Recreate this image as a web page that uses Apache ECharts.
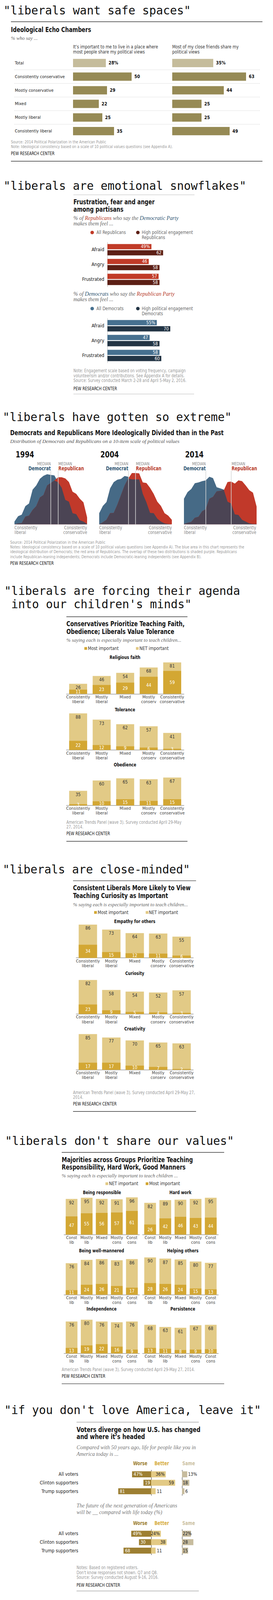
<!DOCTYPE html>
<html><head><meta charset="utf-8">
<script src="https://cdn.jsdelivr.net/npm/echarts@6/dist/echarts.min.js"></script>
<style>html,body{margin:0;padding:0;background:#fff;overflow:hidden}#c{width:699px;height:4418px}</style>
</head><body><div id="c"></div>
<script>
// ================= DATA =================
const echoRows = ['Total','Consistently conservative','Mostly conservative','Mixed','Mostly liberal','Consistently liberal'];
const echoLivePlace = [28,50,29,22,25,35];
const echoFriends = [35,63,44,25,25,49];

const emotions = ['Afraid','Angry','Frustrated'];
const repAll = [49,46,57];
const repHigh = [62,58,58];
const demAll = [55,47,58];
const demHigh = [70,58,60];

const scalePoints = [-10,-9,-8,-7,-6,-5,-4,-3,-2,-1,0,1,2,3,4,5,6,7,8,9,10];
const dem1994 = [23,68,81,151,173,288,323,378,403,416,410,406,350,303,203,188,93,85,35,23,3];
const rep1994 = [0,8,10,65,73,120,151,223,243,323,343,363,391,391,381,351,271,253,213,183,58];
const dem2004 = [93,153,185,298,350,370,377,401,395,373,373,373,253,183,95,93,48,23,8,3,0];
const rep2004 = [0,18,38,93,95,163,243,323,380,425,425,423,348,343,303,253,188,153,93,73,38];
const dem2014 = [213,268,293,341,348,358,365,395,383,308,298,288,188,173,83,78,38,23,8,3,3];
const rep2014 = [3,13,20,55,63,108,125,213,228,273,278,285,351,355,338,365,358,323,283,263,148];
const medians1994 = [0,2];
const medians2004 = [-2,0];
const medians2014 = [-4,3];

const ideoCats = ['Consistently\nliberal','Mostly\nliberal','Mixed','Mostly\nconserv','Consistently\nconservative'];
const faithNet = [26,46,54,68,81], faithMost = [11,23,29,44,59];
const tolNet = [88,73,62,57,41],  tolMost = [22,12,9,6,3];
const obeNet = [35,60,65,63,67],  obeMost = [3,10,15,11,15];
const empNet = [86,73,64,63,55],  empMost = [34,15,12,11,6];
const curNet = [82,58,54,52,57],  curMost = [23,9,5,4,3];
const creNet = [85,77,70,65,63],  creMost = [17,17,10,7,2];

const shortCats = ['Const\nlib','Mostly\nlib','Mixed','Mostly\ncons','Const\ncons'];
const respNet = [92,95,92,91,96], respMost = [47,55,56,57,61];
const hardNet = [82,89,90,92,95], hardMost = [26,42,46,43,44];
const mannNet = [76,84,86,83,86], mannMost = [11,24,26,21,17];
const helpNet = [90,87,85,80,77], helpMost = [28,26,24,15,13];
const indNet  = [76,80,76,74,76], indMost  = [13,19,22,16,9];
const perNet  = [68,63,61,67,68], perMost  = [13,11,8,9,10];

const voterGroups = ['All voters','Clinton supporters','Trump supporters'];
const todayWorse = [47,19,81], todayBetter = [36,59,11], todaySame = [13,18,6];
const futureWorse = [49,30,68], futureBetter = [24,38,11], futureSame = [22,28,15];

// ================= STYLE =================
const NARROW = "'Liberation Sans Narrow','DejaVu Sans Condensed','Arial Narrow','Liberation Sans',sans-serif";
const SERIF = "'Liberation Serif','DejaVu Serif',serif";
const MONO = "'DejaVu Sans Mono','Liberation Mono',monospace";
const OLIVE='#968a55', BEIGE='#c5bc9b';
const RED='#c13b28', MAROON='#5c1f15', BLUE='#46708f', NAVY='#233545';
const A_BLUE='#466a86', A_RED='#c1392a', A_PURPLE='#4b4454';
const DEMTXT='#2f5673', REPTXT='#b73a28';
const LIGHT='#e2ca86', DARK='#d3a733';
const WORSE='#9d7f32', BETTER='#e3ca85', SAME='#c7bc9e';

// the photographed area is limited in height: fit the 4418px layout into it vertically
const FULL_H = 4418;
const VIEW_H = Math.min(window.innerHeight || FULL_H, 4096, FULL_H);
const SY = VIEW_H / FULL_H;
const Y = v => v * SY;

// width calibration against the reference (condensed typeface emulation)
const mctx = document.createElement('canvas').getContext('2d');
function mw(font, s){ mctx.font = font; return mctx.measureText(s).width || 1; }
const kReg = Math.min(1, 128 / mw('12.5px ' + NARROW, 'Consistently conservative'));
const kBold = Math.min(1, 547 / mw('bold 17.5px ' + NARROW, 'Democrats and Republicans More Ideologically Divided than in the Past'));
const kSerif = Math.min(1.05, 434 / mw('italic 13.5px ' + SERIF, 'Distribution of Democrats and Republicans on a 10-item scale of political values'));
const kLab = Math.max(0.86, kReg);

const grid=[], xAxis=[], yAxis=[], series=[], graphic=[];
function addGrid(g){
  g.top = Y(g.top); g.height = Y(g.height);
  grid.push(Object.assign({containLabel:false, outerBoundsMode:'none'}, g)); return grid.length-1;
}

function T(x, y, text, o){
  o = o || {};
  const fs = o.fontSize || 12;
  const lh = (o.lineHeight || Math.round(fs*1.2)) * SY;
  const lines = text.split('\n').length;
  const fam = o.fontFamily || NARROW;
  const st = {
    text: text, fill: o.fill || '#333', fontSize: fs, fontFamily: fam,
    fontWeight: o.fontWeight || 'normal', fontStyle: o.fontStyle || 'normal',
    align: o.align || 'left', verticalAlign: lines>1 ? 'top' : 'middle', lineHeight: lh
  };
  if (o.rich) {
    st.rich = {};
    Object.keys(o.rich).forEach(k => st.rich[k] = Object.assign({lineHeight: lh}, o.rich[k]));
  }
  let sx = 1;
  if (fam === NARROW) sx = (o.fontWeight === 'bold') ? kBold : kReg;
  else if (fam === SERIF) sx = kSerif;
  graphic.push({type:'text', x:x, y: lines>1 ? Y(y) - lh/2 : Y(y), scaleX:sx, silent:true, style: st});
}
function L(x1, y1, x2, y2, o){
  o = o || {};
  graphic.push({type:'line', silent:true, shape:{x1, y1:Y(y1), x2, y2:Y(y2)},
    style:{stroke:o.stroke||'#111', lineWidth:o.w||1.2, lineDash:o.dash||null}});
}
function R(x, y, w, h, fill){ graphic.push({type:'rect', silent:true, shape:{x, y:Y(y + h/2) - h/2, width:w, height:h}, style:{fill}}); }
function C(cx, cy, r, fill){ graphic.push({type:'circle', silent:true, shape:{cx, cy:Y(cy), r}, style:{fill}}); }

const titleFont = {fontFamily:MONO, fontSize:29.5, fill:'#111'};
const headFont = {fontSize:17.5, fontWeight:'bold', fill:'#111'};
const subFont = {fontFamily:SERIF, fontStyle:'italic', fontSize:13.5, fill:'#666'};
const srcFont = {fontSize:10.8, fill:'#999'};
const pewFont = {fontSize:11.5, fill:'#111'};

// ================= SECTION 1 =================
function echoChart(left, data, showLabels){
  const gi = addGrid({left, top:155.2, width:240, height:225.6});
  xAxis.push({gridIndex:gi, type:'value', min:0, max:80, show:false});
  yAxis.push({gridIndex:gi, type:'category', inverse:true, data:echoRows,
    axisLine:{show:false}, axisTick:{show:false}, splitLine:{show:false},
    axisLabel:{show:showLabels, align:'left', margin:149, color:'#222', fontSize:12.5*kLab, fontFamily:NARROW}});
  series.push({type:'bar', xAxisIndex:xAxis.length-1, yAxisIndex:yAxis.length-1, barWidth:23*SY, silent:true,
    data: data.map((v,i)=>({value:v, itemStyle:{color: i===0?BEIGE:OLIVE}})),
    label:{show:true, position:'right', distance:7, color:'#111', fontWeight:'bold', fontSize:13*kLab, fontFamily:NARROW,
      formatter: p => p.dataIndex===0 ? p.value+'%' : ''+p.value}});
}
echoChart(187, echoLivePlace, true);
echoChart(441, echoFriends, false);

T(9, 29, '"liberals want safe spaces"', titleFont);
L(28, 60, 672, 60);
T(28, 82, 'Ideological Echo Chambers', headFont);
T(28, 105, '% who say ...', {fontFamily:SERIF, fontStyle:'italic', fontSize:13, fill:'#666'});
T(187, 129, 'It\u2019s important to me to live in a place where\nmost people share my political views', {fontSize:12.5, fill:'#333', lineHeight:14});
T(441, 129, 'Most of my close friends share my\npolitical views', {fontSize:12.5, fill:'#333', lineHeight:14});
[192.8, 230.4, 268, 305.6, 343.2].forEach(y => L(37, y, 665, y, {stroke:'#aaa', w:1, dash:[1,2]}));
T(28, 392, 'Source: 2014 Political Polarization in the American Public\nNote: Ideological consistency based on a scale of 10 political values questions (see Appendix A).', Object.assign({lineHeight:13}, srcFont));
T(28, 424, 'PEW RESEARCH CENTER', pewFont);
L(28, 445, 672, 445);

// ================= SECTION 2 =================
function emoChart(top, a, b, ca, cb){
  const gi = addGrid({left:275, top, width:230, height:123});
  xAxis.push({gridIndex:gi, type:'value', min:0, max:100, show:false});
  yAxis.push({gridIndex:gi, type:'category', inverse:true, data:emotions,
    axisLine:{show:true, lineStyle:{color:'#bbb', width:1}}, axisTick:{show:false}, splitLine:{show:false},
    axisLabel:{margin:8, color:'#111', fontSize:14*kLab, fontFamily:NARROW}});
  const xi = xAxis.length-1, yi = yAxis.length-1;
  [[a,ca,true],[b,cb,false]].forEach(([d,c,pct]) => {
    series.push({type:'bar', xAxisIndex:xi, yAxisIndex:yi, barWidth:14.5*SY, barGap:'17%', data:d, silent:true,
      itemStyle:{color:c},
      label:{show:true, position:'insideRight', distance:4, color:'#fff', fontSize:13*kLab, fontFamily:NARROW,
        formatter: p => (pct && p.dataIndex===0) ? p.value+'%' : ''+p.value}});
  });
}
emoChart(669, repAll, repHigh, RED, MAROON);
emoChart(879, demAll, demHigh, BLUE, NAVY);

T(9, 513, '"liberals are emotional snowflakes"', titleFont);
L(188, 538, 498, 538, {stroke:'#bbb', w:1});
T(188, 558, 'Frustration, fear and anger\namong partisans', Object.assign({lineHeight:20}, headFont));
function richSub(y, t){
  const base = {fontFamily:SERIF, fontStyle:'italic', fontSize:14};
  T(188, y, t, {fontFamily:SERIF, fontStyle:'italic', fontSize:14, fill:'#666', lineHeight:15,
    rich:{ g:Object.assign({fill:'#666', color:'#666'}, base), r:Object.assign({fill:REPTXT, color:REPTXT}, base),
           b:Object.assign({fill:DEMTXT, color:DEMTXT}, base)}});
}
richSub(602, '{g|% of }{r|Republicans}{g| who say the }{b|Democratic Party}\n{g|makes them feel ...}');
C(236, 642, 4.5, RED); T(247, 642, 'All Republicans', {fontSize:12.5, fill:'#666'});
C(353, 642, 4.5, MAROON); T(363, 642, 'High political engagement\nRepublicans', {fontSize:12.5, fill:'#666', lineHeight:14});
richSub(812, '{g|% of }{b|Democrats}{g| who say the }{r|Republican Party}\n{g|makes them feel ...}');
C(236, 852, 4.5, BLUE); T(247, 852, 'All Democrats', {fontSize:12.5, fill:'#666'});
C(353, 852, 4.5, NAVY); T(363, 852, 'High political engagement\nDemocrats', {fontSize:12.5, fill:'#666', lineHeight:14});
T(188, 1024, 'Note: Engagement scale based on voting frequency, campaign\nvolunteerism and/or contributions. See Appendix A for details.\nSource: Survey conducted March 2-28 and April 5-May 2, 2016.', {fontSize:11.5, fill:'#999', lineHeight:13.5});
T(188, 1073, 'PEW RESEARCH CENTER', pewFont);
L(188, 1088, 497, 1088, {stroke:'#bbb', w:1});

// ================= SECTION 3 =================
const densityInfo = [];
function density(left, dem, rep, med){
  const gi = addGrid({left, top:1300, width:186, height:148});
  xAxis.push({gridIndex:gi, type:'value', min:-10, max:10, show:false});
  yAxis.push({gridIndex:gi, type:'value', min:0, max:444, show:false});
  const xi = xAxis.length-1, yi = yAxis.length-1;
  const pts = arr => arr.map((v,i)=>[scalePoints[i], v]);
  const overlap = dem.map((v,i)=>Math.min(v, rep[i]));
  const base = {type:'line', xAxisIndex:xi, yAxisIndex:yi, symbol:'none', showSymbol:false, lineStyle:{width:0}, silent:true};
  series.push(Object.assign({}, base, {data:pts(dem), areaStyle:{color:A_BLUE, opacity:1}, z:2}));
  series.push(Object.assign({}, base, {data:pts(rep), areaStyle:{color:A_RED, opacity:1}, z:2}));
  series.push(Object.assign({}, base, {data:pts(overlap), areaStyle:{color:A_PURPLE, opacity:1}, z:3,
    markLine:{silent:true, symbol:'none', label:{show:false}, lineStyle:{color:'#d6d6d6', width:1.5, type:'solid'},
      data:[{xAxis:med[0]},{xAxis:med[1]}]}}));
  densityInfo.push({gi, med});
}
density(37, dem1994, rep1994, medians1994);
density(254, dem2004, rep2004, medians2004);
density(471, dem2014, rep2014, medians2014);

T(7, 1152, '"liberals have gotten so extreme"', titleFont);
T(26, 1195, 'Democrats and Republicans More Ideologically Divided than in the Past', headFont);
T(26, 1218, 'Distribution of Democrats and Republicans on a 10-item scale of political values', {fontFamily:SERIF, fontStyle:'italic', fontSize:13.5, fill:'#555'});
[[40,'1994'],[257,'2004'],[474,'2014']].forEach(([x,t]) => T(x, 1255, t, {fontSize:22, fontWeight:'bold', fill:'#111'}));
[[37,223],[254,440],[471,656]].forEach(([a,b]) => {
  T(a, 1458, 'Consistently\nliberal', {fontSize:12, fill:'#888', lineHeight:13});
  T(b, 1458, 'Consistently\nconservative', {fontSize:12, fill:'#888', lineHeight:13, align:'right'});
});
T(26, 1497, 'Source: 2014 Political Polarization in the American Public\nNotes: Ideological consistency based on a scale of 10 political values questions (see Appendix A). The blue area in this chart represents the\nideological distribution of Democrats; the red area of Republicans. The overlap of these two distributions is shaded purple. Republicans\ninclude Republican-leaning independents; Democrats include Democratic-leaning independents (see Appendix B).', Object.assign({lineHeight:13.3}, srcFont));
T(26, 1556, 'PEW RESEARCH CENTER', pewFont);

// ================= VERTICAL PAIR CHARTS =================
function pairChart(left, width, top, height, cats, net, most, barW){
  const gi = addGrid({left, top, width, height});
  xAxis.push({gridIndex:gi, type:'category', data:cats, axisLine:{show:true, lineStyle:{color:'#999', width:1.5}},
    axisTick:{show:false}, splitLine:{show:false},
    axisLabel:{interval:0, color:'#444', fontSize:12.5*kLab, fontFamily:NARROW, lineHeight:13*SY, margin:2}});
  yAxis.push({gridIndex:gi, type:'value', min:0, max:100, show:false});
  const xi = xAxis.length-1, yi = yAxis.length-1;
  series.push({type:'bar', name:'NET important', xAxisIndex:xi, yAxisIndex:yi, data:net, barWidth:barW, barGap:'-100%',
    itemStyle:{color:LIGHT}, silent:true,
    label:{show:true, position:'insideTop', distance:4, color:'#333', fontSize:13*kLab, fontFamily:NARROW}});
  series.push({type:'bar', name:'Most important', xAxisIndex:xi, yAxisIndex:yi, data:most, barWidth:barW, barGap:'-100%',
    itemStyle:{color:DARK}, silent:true,
    label:{show:true, position:'inside', color:'#fff', fontSize:13*kLab, fontFamily:NARROW}});
}

// ---- Section 4 ----
pairChart(170, 301, 1808.6, 107.4, ideoCats, faithNet, faithMost, 46);
pairChart(170, 301, 1956, 115, ideoCats, tolNet, tolMost, 46);
pairChart(170, 301, 2109, 115, ideoCats, obeNet, obeMost, 46);

T(11, 1632, '"liberals are forcing their agenda\n into our children\'s minds"', Object.assign({lineHeight:37}, titleFont));
L(170, 1703, 480, 1703);
T(170, 1723, 'Conservatives Prioritize Teaching Faith,\nObedience; Liberals Value Tolerance', Object.assign({lineHeight:21}, headFont));
T(170, 1767, '% saying each is especially important to teach children...', Object.assign({}, subFont, {fontSize:13}));
R(216, 1787, 7, 7, DARK); T(225, 1790, 'Most important', {fontSize:13, fill:'#333'});
R(348, 1787, 7, 7, LIGHT); T(357, 1790, 'NET important', {fontSize:13, fill:'#333'});
const panelFont = {fontSize:12.5, fontWeight:'bold', fill:'#111', align:'center'};
T(320, 1815, 'Religious faith', panelFont);
T(320, 1959, 'Tolerance', panelFont);
T(320, 2112, 'Obedience', panelFont);
T(170, 2271, 'American Trends Panel (wave 3). Survey conducted April 29-May\n27, 2014.', {fontSize:11.5, fill:'#999', lineHeight:13});
T(170, 2302, 'PEW RESEARCH CENTER', pewFont);
L(170, 2323, 480, 2323);

// ---- Section 5 ----
pairChart(195, 300, 2538, 107, ideoCats, empNet, empMost, 47);
pairChart(195, 300, 2685.4, 114.6, ideoCats, curNet, curMost, 47);
pairChart(195, 300, 2838, 116, ideoCats, creNet, creMost, 47);

T(7, 2400.5, '"liberals are close-minded"', titleFont);
L(187, 2432, 502, 2432);
T(187, 2452, 'Consistent Liberals More Likely to View\nTeaching Curiosity as Important', Object.assign({lineHeight:21}, headFont));
T(187, 2497, '% saying each is especially important to teach children...', Object.assign({}, subFont, {fontSize:13}));
R(241, 2516, 7, 7, DARK); T(250, 2519, 'Most important', {fontSize:13, fill:'#333'});
R(373, 2516, 7, 7, LIGHT); T(381, 2519, 'NET important', {fontSize:13, fill:'#333'});
T(345, 2544, 'Empathy for others', panelFont);
T(345, 2688, 'Curiosity', panelFont);
T(345, 2841, 'Creativity', panelFont);
T(187, 3017, 'American Trends Panel (wave 3). Survey conducted April 29-May 27,\n2014.', {fontSize:11.5, fill:'#999', lineHeight:13});
T(187, 3048, 'PEW RESEARCH CENTER', pewFont);
L(187, 3069, 502, 3069);

// ---- Section 6 ----
pairChart(164, 193, 3302, 107, shortCats, respNet, respMost, 30);
pairChart(365, 194, 3302, 107, shortCats, hardNet, hardMost, 30);
pairChart(164, 193, 3460.5, 114.5, shortCats, mannNet, mannMost, 30);
pairChart(365, 194, 3460.5, 114.5, shortCats, helpNet, helpMost, 30);
pairChart(164, 193, 3621, 116, shortCats, indNet, indMost, 30);
pairChart(365, 194, 3621, 116, shortCats, perNet, perMost, 30);

T(13, 3150.5, '"liberals don\'t share our values"', titleFont);
L(158, 3182, 574, 3182);
T(158, 3202, 'Majorities across Groups Prioritize Teaching\nResponsibility, Hard Work, Good Manners', Object.assign({lineHeight:21}, headFont));
T(158, 3246, '% saying each is especially important to teach children ...', Object.assign({}, subFont, {fontSize:13}));
R(270, 3265, 7, 7, LIGHT); T(279, 3268, 'NET important', {fontSize:13, fill:'#333'});
R(373, 3265, 7, 7, DARK); T(382, 3268, 'Most important', {fontSize:13, fill:'#333'});
T(261, 3293, 'Being responsible', panelFont); T(462, 3293, 'Hard work', panelFont);
T(260, 3453, 'Being well-mannered', panelFont); T(468, 3453, 'Helping others', panelFont);
T(260, 3614, 'Independence', panelFont); T(468, 3614, 'Persistence', panelFont);
T(158, 3782, 'American Trends Panel (wave 3). Survey conducted April 29-May 27, 2014.', {fontSize:11.5, fill:'#999'});
T(158, 3800, 'PEW RESEARCH CENTER', pewFont);
L(158, 3821, 574, 3821);

// ================= SECTION 7 =================
function voteChart(top, worse, better, same){
  const g1 = addGrid({left:293.4, top, width:166.4, height:70});
  xAxis.push({gridIndex:g1, type:'value', min:-90, max:70, show:false});
  yAxis.push({gridIndex:g1, type:'category', inverse:true, data:voterGroups,
    axisLine:{show:true, onZero:true, lineStyle:{color:'#333', width:1}}, axisTick:{show:false}, splitLine:{show:false},
    axisLabel:{margin:93, color:'#222', fontSize:13.5*kLab, fontFamily:NARROW}});
  let xi = xAxis.length-1, yi = yAxis.length-1;
  series.push({type:'bar', xAxisIndex:xi, yAxisIndex:yi, barWidth:16.5*SY, barGap:'-100%', silent:true,
    data: worse.map(v=>-v), itemStyle:{color:WORSE},
    label:{show:true, position:'insideLeft', distance:4, color:'#fff', fontSize:13*kLab, fontFamily:NARROW,
      formatter: p => Math.abs(p.value) + (p.dataIndex===0?'%':'')}});
  series.push({type:'bar', xAxisIndex:xi, yAxisIndex:yi, barWidth:16.5*SY, barGap:'-100%', silent:true,
    data: better.map(v=>({value:v, label:{position: v>=20 ? 'insideRight' : 'right'}})), itemStyle:{color:BETTER},
    label:{show:true, distance:3, color:'#222', fontSize:13*kLab, fontFamily:NARROW,
      formatter: p => p.value + (p.dataIndex===0?'%':'')}});
  const g2 = addGrid({left:466, top, width:52, height:70});
  xAxis.push({gridIndex:g2, type:'value', min:0, max:50, show:false});
  yAxis.push({gridIndex:g2, type:'category', inverse:true, data:voterGroups,
    axisLine:{show:true, lineStyle:{color:'#333', width:1}}, axisTick:{show:false}, axisLabel:{show:false}, splitLine:{show:false}});
  xi = xAxis.length-1; yi = yAxis.length-1;
  series.push({type:'bar', xAxisIndex:xi, yAxisIndex:yi, barWidth:16.5*SY, silent:true,
    data: same.map(v=>({value:v, label:{position: v>=15 ? 'insideLeft' : 'right'}})), itemStyle:{color:SAME},
    label:{show:true, distance:2, color:'#222', fontSize:13*kLab, fontFamily:NARROW,
      formatter: p => p.value + (p.dataIndex===0?'%':'')}});
}
voteChart(4059.3, todayWorse, todayBetter, todaySame);
voteChart(4223.3, futureWorse, futureBetter, futureSame);

T(11, 3893.5, '"if you don\'t love America, leave it"', titleFont);
L(196, 3927, 509, 3927, {stroke:'#bbb', w:2});
T(196, 3947, 'Voters diverge on how U.S. has changed\nand where it\u2019s headed', {fontSize:18, fontWeight:'bold', fill:'#111', lineHeight:20});
T(196, 3997, 'Compared with 50 years ago, life for people like you in\nAmerica today is ...', {fontFamily:SERIF, fontStyle:'italic', fontSize:14, fill:'#777', lineHeight:18});
function heads(y){
  T(359, y, 'Worse', {fontSize:13.5, fontWeight:'bold', fill:WORSE, align:'center'});
  T(414, y, 'Better', {fontSize:13.5, fontWeight:'bold', fill:'#d6ab3d', align:'center'});
  T(483, y, 'Same', {fontSize:13.5, fontWeight:'bold', fill:'#cbbf9f', align:'center'});
}
heads(4041);
T(196, 4158, 'The future of the next generation of Americans\nwill be __ compared with life today (%)', {fontFamily:SERIF, fontStyle:'italic', fontSize:14, fill:'#777', lineHeight:18});
heads(4206);
T(196, 4329, 'Notes: Based on registered voters.\nDon\'t know responses not shown. Q7 and Q8.\nSource: Survey conducted August 9-16, 2016.', {fontSize:11.5, fill:'#999', lineHeight:13.5});
T(196, 4377, 'PEW RESEARCH CENTER', pewFont);
L(196, 4393, 509, 4393, {stroke:'#999', w:1.2});

// ================= RENDER =================
const el = document.getElementById('c');
el.style.height = Math.floor(FULL_H * SY) + 'px';
const chart = echarts.init(el, null, {renderer:'svg', width:699, height:Math.floor(FULL_H * SY)});
chart.setOption({animation:false, backgroundColor:'#fff', grid, xAxis, yAxis, series});
densityInfo.forEach(d => {
  const xd = chart.convertToPixel({gridIndex:d.gi}, [d.med[0], 0])[0];
  const xr = chart.convertToPixel({gridIndex:d.gi}, [d.med[1], 0])[0];
  T(xd, 1280, 'MEDIAN', {fontSize:11, fill:'#888', align:'right'});
  T(xd, 1293, 'Democrat', {fontSize:13.5, fontWeight:'bold', fill:DEMTXT, align:'right'});
  T(xr + 1, 1280, 'MEDIAN', {fontSize:11, fill:'#888'});
  T(xr + 1, 1293, 'Republican', {fontSize:13.5, fontWeight:'bold', fill:REPTXT});
});
chart.setOption({graphic: graphic});
</script>
</body></html>
